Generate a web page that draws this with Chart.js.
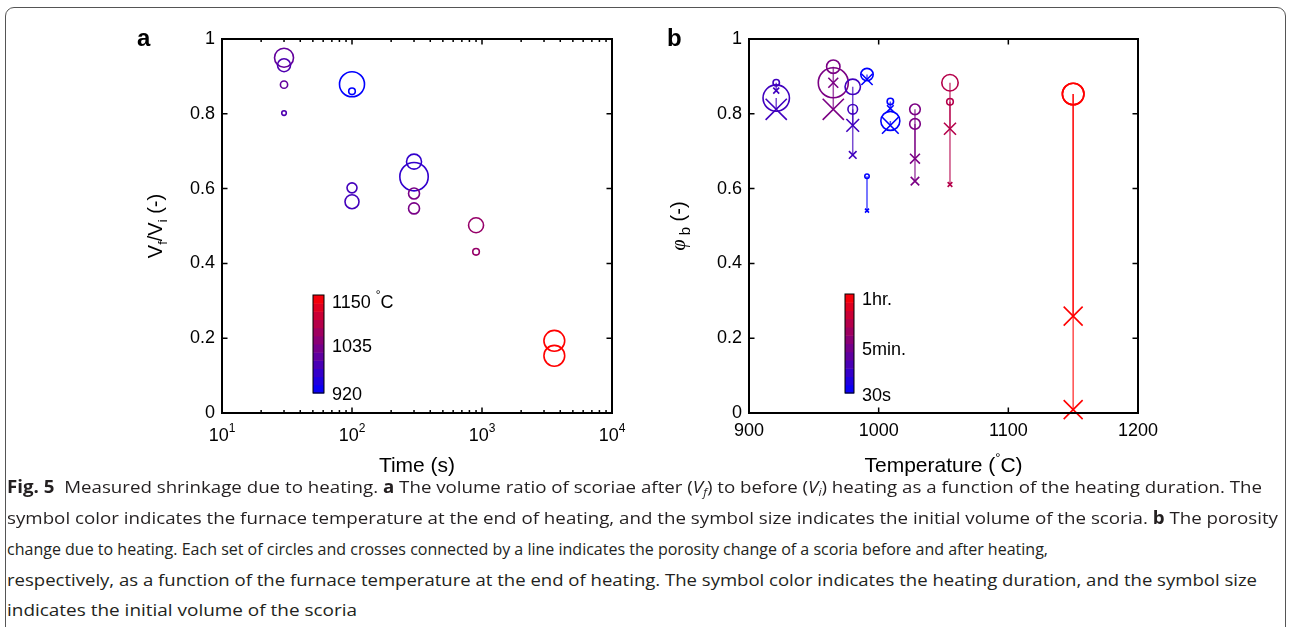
<!DOCTYPE html>
<html>
<head>
<meta charset="utf-8">
<script src="https://cdn.jsdelivr.net/npm/chart.js@4.4.0/dist/chart.umd.min.js"></script>
<style>
  body { margin: 0; background: #fff; }
  #fig { position: relative; width: 1290px; height: 627px; overflow: hidden; background: #fff; }
  #frame { position: absolute; left: 5px; top: 7px; width: 1281px; height: 650px; border: 1.5px solid #555; border-radius: 9px; box-sizing: border-box; }
  canvas { position: absolute; top: 0; }
  #ca { left: 0; }
  #cb { left: 645px; }
  .cap { position: absolute; left: 7px; white-space: nowrap; font-family: "Open Sans", "Noto Sans", sans-serif; font-size: 17px; line-height: 20px; color: #231f20; transform-origin: 0 0; }
  .cap sub { font-size: 11px; vertical-align: -3px; line-height: 0; }
</style>
</head>
<body>
<div id="fig">
  <div id="frame"></div>
  <canvas id="ca" width="645" height="480"></canvas>
  <canvas id="cb" width="645" height="480"></canvas>
  <div class="cap" style="top:477px" data-w="1255"><b>Fig. 5</b>&nbsp; Measured shrinkage due to heating. <b>a</b> The volume ratio of scoriae after (<i>V</i><sub><i>f</i></sub>) to before (<i>V</i><sub><i>i</i></sub>) heating as a function of the heating duration. The</div>
  <div class="cap" style="top:508px" data-w="1271">symbol color indicates the furnace temperature at the end of heating, and the symbol size indicates the initial volume of the scoria. <b>b</b> The porosity</div>
  <div class="cap" style="top:539px" data-w="1041">change due to heating. Each set of circles and crosses connected by a line indicates the porosity change of a scoria before and after heating,</div>
  <div class="cap" style="top:570px" data-w="1250">respectively, as a function of the furnace temperature at the end of heating. The symbol color indicates the heating duration, and the symbol size</div>
  <div class="cap" style="top:600px" data-w="350">indicates the initial volume of the scoria</div>
</div>
<script>
// ---- panel a: volume ratio vs heating time ----
const timeS      = [30, 30, 30, 30, 100, 100, 100, 100, 300, 300, 300, 300, 900, 900, 3600, 3600];
const volRatio   = [0.95, 0.93, 0.878, 0.802, 0.879, 0.86, 0.602, 0.565, 0.672, 0.632, 0.587, 0.547, 0.502, 0.431, 0.193, 0.153];
const furnaceTa  = [1009, 991, 1009, 991, 921, 921, 980, 980, 965, 965, 1028, 1028, 1055, 1055, 1150, 1150];
const radiusA    = [9.5, 6.5, 3.6, 2.3, 12.5, 3.3, 5, 7, 7.5, 14.2, 5.5, 5.5, 7.5, 3.3, 10.4, 10.4];
const timeTicks  = [10, 100, 1000, 10000];
const ratioTicks = [0, 0.2, 0.4, 0.6, 0.8, 1];

// ---- panel b: porosity before (circle) / after (cross) vs temperature ----
const furnaceTb  = [921, 921, 965, 965, 980, 980, 991, 991, 1009, 1009, 1028, 1028, 1055, 1055, 1150, 1150];
const durationS  = [100, 100, 300, 300, 100, 100, 30, 30, 30, 30, 300, 300, 900, 900, 3600, 3600];
const phiBefore  = [0.883, 0.842, 0.926, 0.883, 0.872, 0.812, 0.905, 0.633, 0.833, 0.781, 0.812, 0.773, 0.883, 0.832, 0.853, 0.853];
const phiAfter   = [0.862, 0.812, 0.883, 0.812, 0.769, 0.69, 0.892, 0.541, 0.814, 0.769, 0.68, 0.62, 0.76, 0.611, 0.259, 0.009];
const circleB    = [3.2, 13.2, 6.7, 15, 7.7, 4.8, 6.2, 2.2, 3.2, 9.5, 5.3, 5.3, 8.2, 3.3, 10.8, 10.8];
const crossB     = [4.2, 15, 7, 15, 9, 5.4, 8, 2.8, 4.7, 11.8, 7, 6, 8.5, 3.3, 13.4, 13.4];
const tempTicks  = [900, 1000, 1100, 1200];
const phiTicks   = [0, 0.2, 0.4, 0.6, 0.8, 1];

// colour bars
const tempRange  = [920, 1150];
const tempBarLabels = ['920', '1035', '1150'];
const durRange   = [30, 3600];
const durBarLabels  = ['30s', '5min.', '1hr.'];

const FONT = '"Liberation Sans", Arial, sans-serif';
Chart.defaults.font.family = FONT;
Chart.defaults.color = '#000';
Chart.defaults.animation = false;
Chart.defaults.plugins.legend.display = false;
Chart.defaults.plugins.tooltip.enabled = false;

function colorAt(f, a) {
  f = Math.max(0, Math.min(1, f));
  return 'rgba(' + Math.round(255 * f) + ',0,' + Math.round(255 * (1 - f)) + ',' + (a == null ? 1 : a) + ')';
}
const fracT = t => (t - tempRange[0]) / (tempRange[1] - tempRange[0]);
const fracD = d => Math.log(d / durRange[0]) / Math.log(durRange[1] / durRange[0]);

// parts: [text, size, dy, style, family]
function rich(ctx, parts, x, y, align) {
  let w = 0;
  parts.forEach(p => {
    ctx.font = (p[3] || '') + ' ' + p[1] + 'px ' + (p[4] || FONT);
    p.w = ctx.measureText(p[0]).width;
    w += p.w;
  });
  let cx = align === 'center' ? x - w / 2 : x;
  ctx.textAlign = 'left';
  ctx.textBaseline = 'alphabetic';
  parts.forEach(p => {
    ctx.font = (p[3] || '') + ' ' + p[1] + 'px ' + (p[4] || FONT);
    ctx.fillText(p[0], cx, y + p[2]);
    cx += p.w;
  });
}

function frameAndTicks(chart, xMajor, xMinor, yMajor) {
  const { ctx, chartArea: a, scales: { x, y } } = chart;
  ctx.save();
  ctx.strokeStyle = '#000';
  ctx.lineWidth = 1.5;
  ctx.beginPath();
  xMajor.forEach(v => {
    const p = x.getPixelForValue(v);
    ctx.moveTo(p, a.bottom); ctx.lineTo(p, a.bottom - 5.5);
    ctx.moveTo(p, a.top); ctx.lineTo(p, a.top + 5.5);
  });
  xMinor.forEach(v => {
    const p = x.getPixelForValue(v);
    ctx.moveTo(p, a.bottom); ctx.lineTo(p, a.bottom - 3);
    ctx.moveTo(p, a.top); ctx.lineTo(p, a.top + 3);
  });
  yMajor.forEach(v => {
    const p = y.getPixelForValue(v);
    ctx.moveTo(a.left, p); ctx.lineTo(a.left + 5.5, p);
    ctx.moveTo(a.right, p); ctx.lineTo(a.right - 5.5, p);
  });
  ctx.stroke();
  ctx.lineWidth = 2;
  ctx.strokeRect(a.left, a.top, a.right - a.left, a.bottom - a.top);
  ctx.restore();
}

function colorBar(ctx, x, y, w, h, labels, labelY, degree) {
  const steps = 12;
  for (let i = 0; i < steps; i++) {
    ctx.fillStyle = colorAt((i + 0.5) / steps);
    const y0 = y + h - (i + 1) * h / steps;
    ctx.fillRect(x, y0, w, h / steps + 0.5);
  }
  ctx.strokeStyle = '#000';
  ctx.lineWidth = 1;
  ctx.strokeRect(x, y, w, h);
  ctx.fillStyle = '#000';
  labels.forEach((t, i) => {
    const parts = [[t, 18, 0]];
    if (degree && i === labels.length - 1) parts.push([' ', 18, 0], ['\u00b0', 12, -9], ['C', 18, 0]);
    rich(ctx, parts, x + w + 8, labelY[i] + 6.5, 'left');
  });
}

const panelA = {
  id: 'panelA',
  afterDatasetsDraw(chart) {
    const { ctx, chartArea: a, scales: { x } } = chart;
    const minor = [];
    for (let k = 1; k < 4; k++) for (let m = 2; m < 10; m++) minor.push(m * Math.pow(10, k));
    frameAndTicks(chart, timeTicks, minor, ratioTicks);
    ctx.save();
    ctx.fillStyle = '#000';
    timeTicks.forEach(v => {
      rich(ctx, [['10', 18, 0], [String(Math.round(Math.log10(v))), 12, -9]], x.getPixelForValue(v), 441, 'center');
    });
    rich(ctx, [['Time (s)', 21, 0]], (a.left + a.right) / 2, 472, 'center');
    // y title
    ctx.save();
    ctx.translate(162, (a.top + a.bottom) / 2);
    ctx.rotate(-Math.PI / 2);
    rich(ctx, [['V', 20, 0], ['f', 13, 5], ['/V', 20, 0], ['i', 13, 5], [' (-)', 20, 0]], 0, 0, 'center');
    ctx.restore();
    // panel letter
    rich(ctx, [['a', 24, 0, 'bold']], 137, 46, 'left');
    colorBar(ctx, 313, 295, 11, 98, tempBarLabels, [393, 345, 301], true);
    ctx.restore();
  }
};

const panelB = {
  id: 'panelB',
  afterDatasetsDraw(chart) {
    const { ctx, chartArea: a } = chart;
    frameAndTicks(chart, tempTicks, [], phiTicks);
    ctx.save();
    ctx.fillStyle = '#000';
    rich(ctx, [['Temperature (', 21, 0], ['\u00b0', 13, -10], ['C)', 21, 0]], (a.left + a.right) / 2, 472, 'center');
    ctx.save();
    ctx.translate(40, (a.top + a.bottom) / 2);
    ctx.rotate(-Math.PI / 2);
    rich(ctx, [['\u03c6', 20, 0, 'italic', '"Liberation Serif", serif'], [' b', 15, 5], [' (-)', 20, 0]], 0, 0, 'center');
    ctx.restore();
    rich(ctx, [['b', 24, 0, 'bold']], 22, 46, 'left');
    colorBar(ctx, 200, 294, 9, 99, durBarLabels, [394, 348, 298], false);
    ctx.restore();
  }
};

const tickText = v => String(v);

new Chart(document.getElementById('ca'), {
  type: 'scatter',
  data: {
    datasets: [{
      data: timeS.map((t, i) => ({ x: t, y: volRatio[i] })),
      pointStyle: 'circle',
      pointRadius: radiusA,
      pointHoverRadius: radiusA,
      pointBorderWidth: 1.6,
      pointBorderColor: furnaceTa.map(t => colorAt(fracT(t))),
      pointBackgroundColor: 'rgba(0,0,0,0)',
      clip: false
    }]
  },
  options: {
    responsive: false,
    devicePixelRatio: 1,
    layout: { padding: { top: 39, right: 33, left: 0, bottom: 0 } },
    scales: {
      x: {
        type: 'logarithmic', min: 10, max: 10000,
        afterBuildTicks: s => { s.ticks = timeTicks.map(v => ({ value: v })); },
        ticks: { display: false },
        grid: { display: false, drawTicks: false },
        border: { display: false },
        afterFit: s => { s.height = 67; }
      },
      y: {
        min: 0, max: 1,
        afterBuildTicks: s => { s.ticks = ratioTicks.map(v => ({ value: v })); },
        ticks: { font: { size: 18 }, padding: 7, color: '#000', callback: tickText },
        grid: { display: false, drawTicks: false },
        border: { display: false },
        afterFit: s => { s.width = 222; }
      }
    }
  },
  plugins: [panelA]
});

const pairLines = furnaceTb.map((t, i) => ({
  type: 'line',
  showLine: true,
  data: [{ x: t, y: phiBefore[i] }, { x: t, y: phiAfter[i] }],
  borderColor: colorAt(fracD(durationS[i]), 0.7),
  borderWidth: 1.5,
  pointRadius: 0,
  clip: false,
  order: 3
}));

new Chart(document.getElementById('cb'), {
  type: 'scatter',
  data: {
    datasets: [{
      data: furnaceTb.map((t, i) => ({ x: t, y: phiBefore[i] })),
      pointStyle: 'circle',
      pointRadius: circleB,
      pointHoverRadius: circleB,
      pointBorderWidth: 1.6,
      pointBorderColor: durationS.map(d => colorAt(fracD(d))),
      pointBackgroundColor: 'rgba(0,0,0,0)',
      clip: false,
      order: 1
    }, {
      data: furnaceTb.map((t, i) => ({ x: t, y: phiAfter[i] })),
      pointStyle: 'crossRot',
      pointRadius: crossB,
      pointHoverRadius: crossB,
      pointBorderWidth: 1.6,
      pointBorderColor: durationS.map(d => colorAt(fracD(d))),
      clip: false,
      order: 2
    }].concat(pairLines)
  },
  options: {
    responsive: false,
    devicePixelRatio: 1,
    layout: { padding: { top: 39, right: 152, left: 0, bottom: 0 } },
    scales: {
      x: {
        type: 'linear', min: 900, max: 1200,
        afterBuildTicks: s => { s.ticks = tempTicks.map(v => ({ value: v })); },
        ticks: { font: { size: 18 }, padding: 7, color: '#000', callback: tickText, maxRotation: 0 },
        grid: { display: false, drawTicks: false },
        border: { display: false },
        afterFit: s => { s.height = 67; }
      },
      y: {
        min: 0, max: 1,
        afterBuildTicks: s => { s.ticks = phiTicks.map(v => ({ value: v })); },
        ticks: { font: { size: 18 }, padding: 7, color: '#000', callback: tickText },
        grid: { display: false, drawTicks: false },
        border: { display: false },
        afterFit: s => { s.width = 104; }
      }
    }
  },
  plugins: [panelB]
});

// fit caption lines to their measured widths
function fitCaption() {
  document.querySelectorAll('.cap').forEach(el => {
    el.style.transform = '';
    const w = el.getBoundingClientRect().width;
    el.style.transform = 'scaleX(' + (+el.dataset.w / w) + ')';
  });
}
fitCaption();
if (document.fonts) document.fonts.ready.then(fitCaption);
</script>
</body>
</html>
